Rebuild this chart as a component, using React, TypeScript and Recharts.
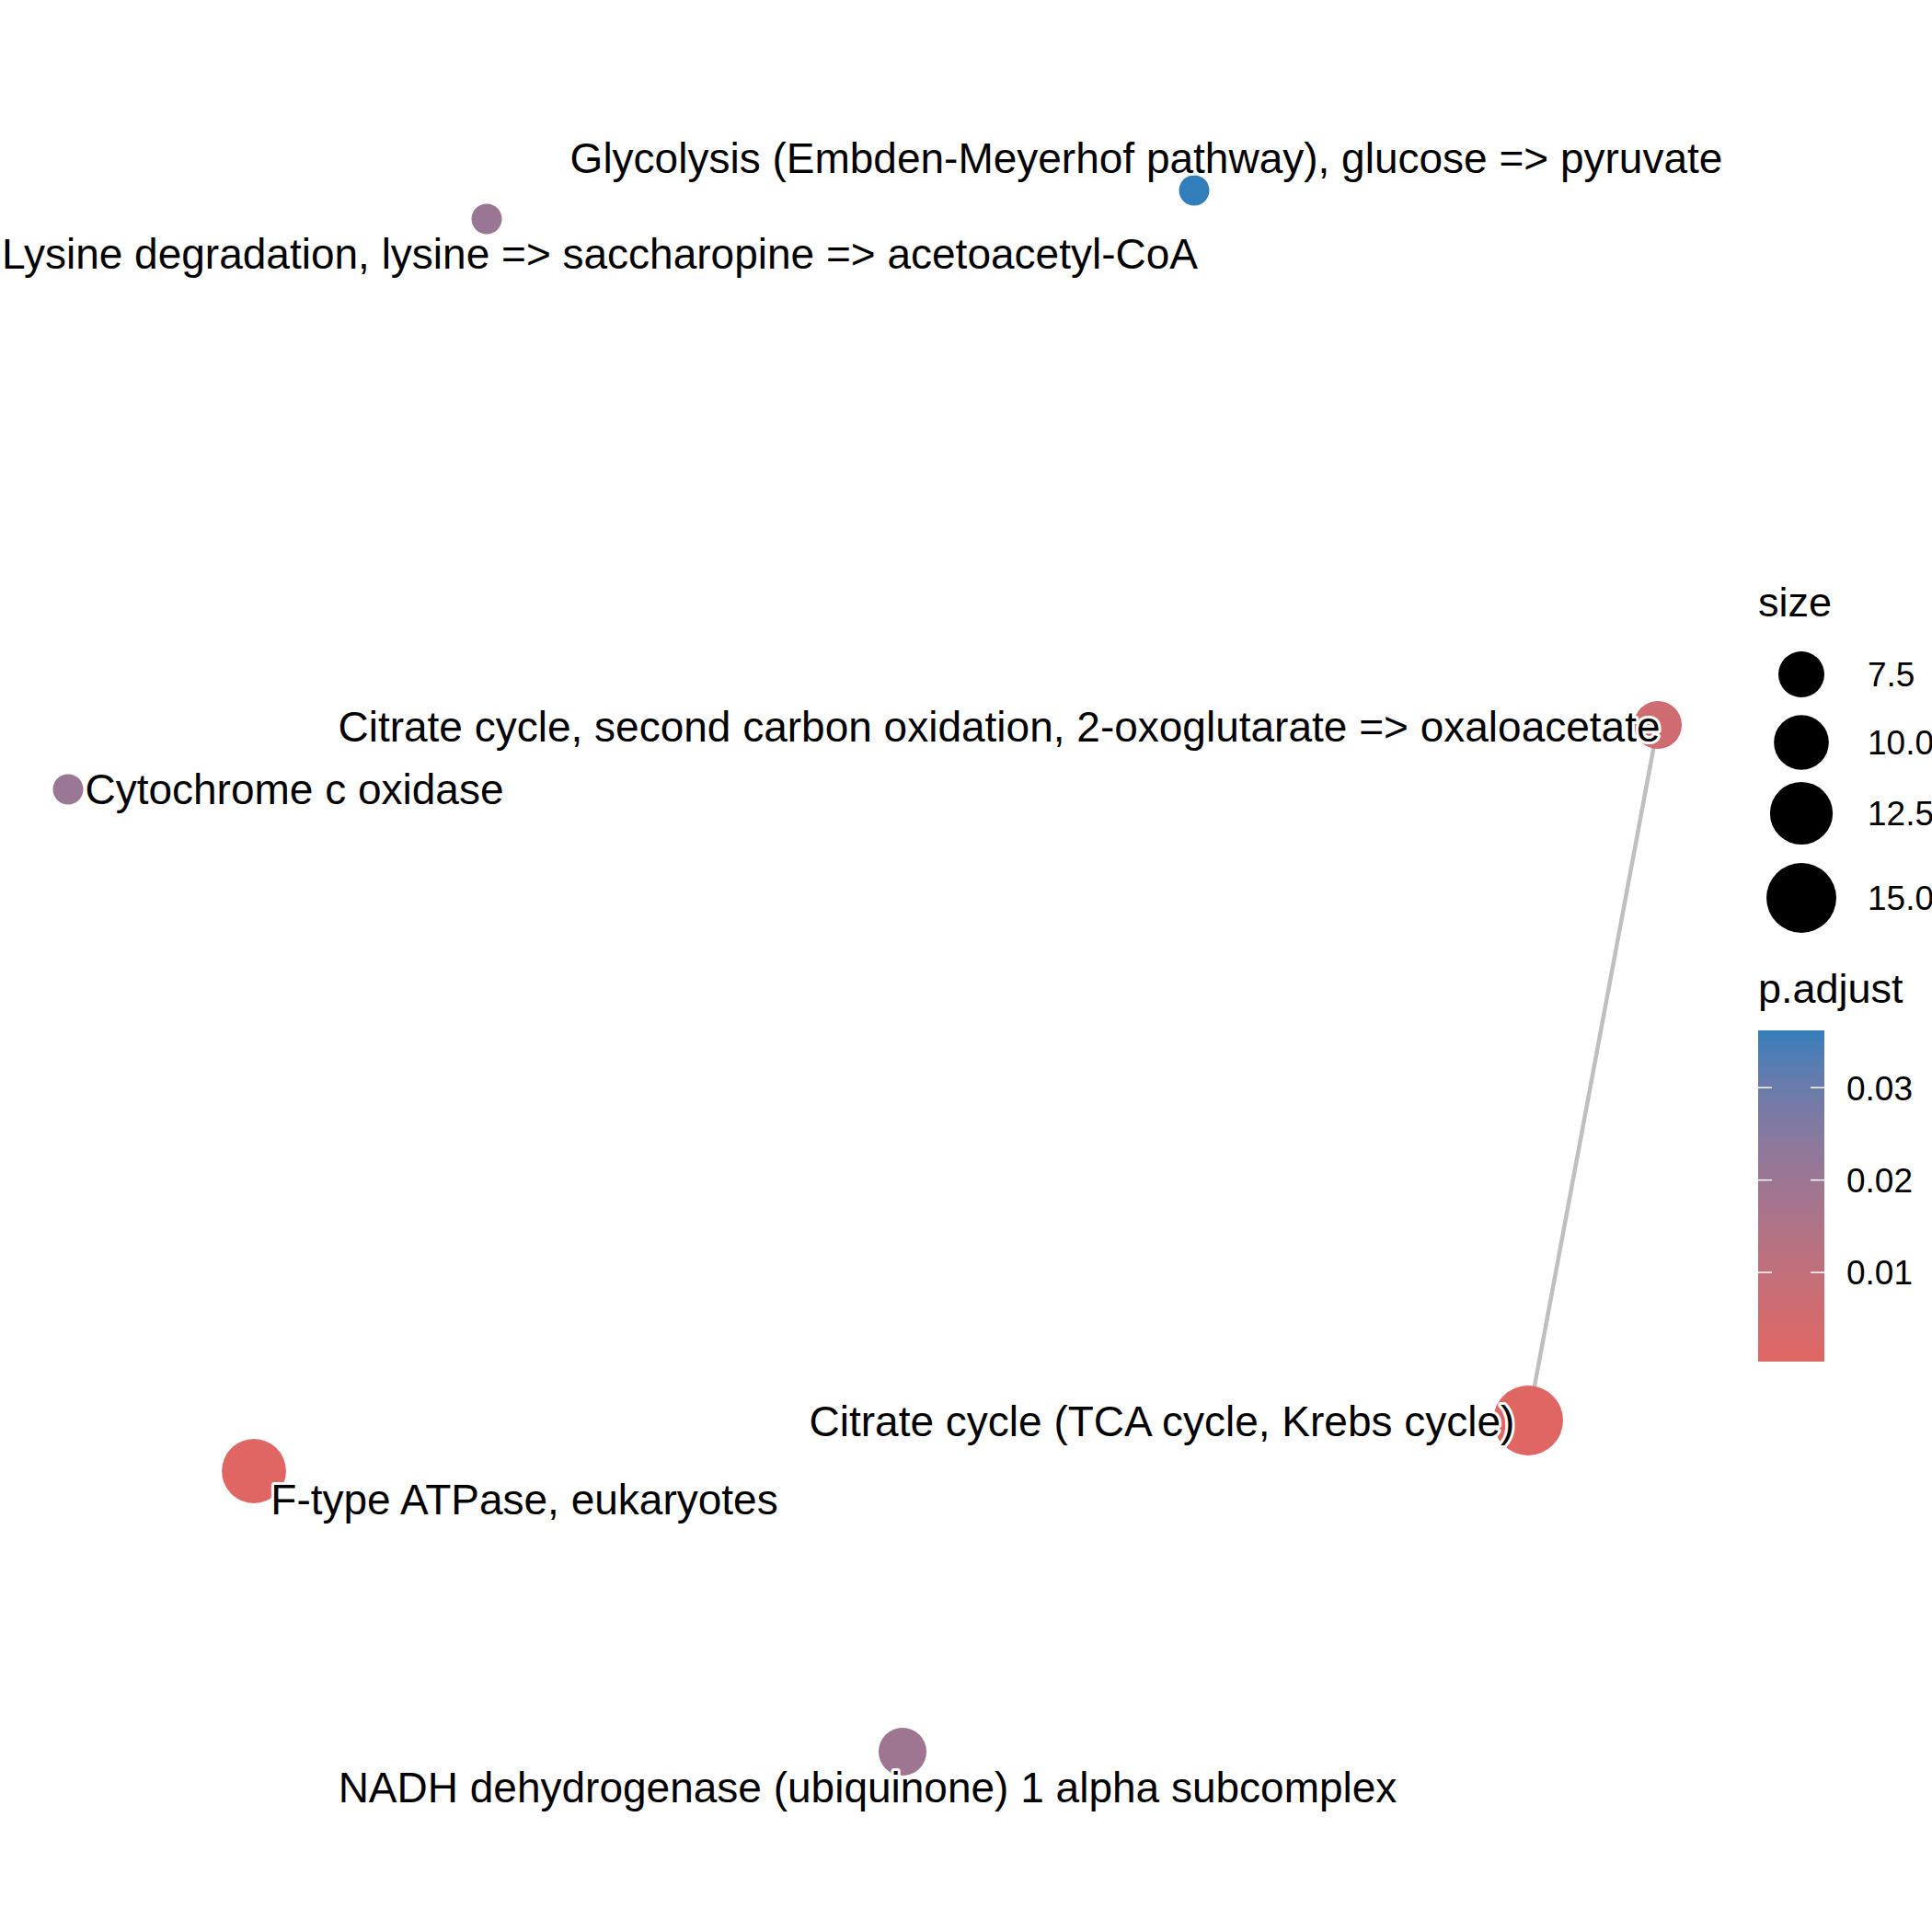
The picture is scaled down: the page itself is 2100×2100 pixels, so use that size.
import React from 'react';
import { ScatterChart, Scatter, XAxis, YAxis } from 'recharts';

// ---- data ----
const nodeNames = [
  'Glycolysis (Embden-Meyerhof pathway), glucose => pyruvate',
  'Lysine degradation, lysine => saccharopine => acetoacetyl-CoA',
  'Citrate cycle, second carbon oxidation, 2-oxoglutarate => oxaloacetate',
  'Cytochrome c oxidase',
  'Citrate cycle (TCA cycle, Krebs cycle)',
  'F-type ATPase, eukaryotes',
  'NADH dehydrogenase (ubiquinone) 1 alpha subcomplex',
];
const layoutX = [2.98, -4.71, 8.02, -9.26, 6.61, -7.24, -0.19];
const layoutY = [8.43, 8.12, 2.62, 1.92, -4.94, -5.49, -8.54];
const geneCount = [4, 4, 8, 4, 15, 13, 8];
const pAdjust = [0.0362, 0.0205, 0.0062, 0.0208, 0.00035, 0.0004, 0.0195];
const labelX = [2.46, -3.48, 0.86, -6.8, 2.63, -4.3, -0.57];
const labelY = [8.79, 7.75, 2.61, 1.93, -4.94, -5.79, -8.92];
const edges: [number, number][] = [[2, 4]];

const sizeBreaks = [7.5, 10.0, 12.5, 15.0];
const sizeBreakLabels = ['7.5', '10.0', '12.5', '15.0'];
const pBreaks = [0.01, 0.02, 0.03];
const pBreakLabels = ['0.01', '0.02', '0.03'];

const LOW = '#e06663';
const HIGH = '#327eba';

// ---- helpers ----
const W = 2100;
const H = 2100;
const FONT = '"Liberation Sans", Arial, Helvetica, sans-serif';

function radiusOf(v: number) {
  return -6.4 + 11.46 * Math.sqrt(v);
}

function hexToRgb(h: string) {
  const n = parseInt(h.slice(1), 16);
  return [(n >> 16) & 255, (n >> 8) & 255, n & 255];
}
function toLin(c: number) {
  c /= 255;
  return c <= 0.04045 ? c / 12.92 : Math.pow((c + 0.055) / 1.055, 2.4);
}
function fromLin(c: number) {
  const v = c <= 0.0031308 ? 12.92 * c : 1.055 * Math.pow(c, 1 / 2.4) - 0.055;
  return Math.max(0, Math.min(255, Math.round(v * 255)));
}
function rgbToLab(rgb: number[]) {
  const [r, g, b] = rgb.map(toLin);
  let x = (r * 0.4124 + g * 0.3576 + b * 0.1805) / 0.95047;
  let y = r * 0.2126 + g * 0.7152 + b * 0.0722;
  let z = (r * 0.0193 + g * 0.1192 + b * 0.9505) / 1.08883;
  const f = (t: number) => (t > 0.008856 ? Math.cbrt(t) : 7.787 * t + 16 / 116);
  x = f(x); y = f(y); z = f(z);
  return [116 * y - 16, 500 * (x - y), 200 * (y - z)];
}
function labToHex(lab: number[]) {
  const [L, a, bb] = lab;
  const fy = (L + 16) / 116;
  const fx = fy + a / 500;
  const fz = fy - bb / 200;
  const inv = (t: number) => (t * t * t > 0.008856 ? t * t * t : (t - 16 / 116) / 7.787);
  const x = inv(fx) * 0.95047;
  const y = inv(fy);
  const z = inv(fz) * 1.08883;
  const r = x * 3.2406 + y * -1.5372 + z * -0.4986;
  const g = x * -0.9689 + y * 1.8758 + z * 0.0415;
  const b = x * 0.0557 + y * -0.204 + z * 1.057;
  return '#' + [r, g, b].map(fromLin).map((v) => v.toString(16).padStart(2, '0')).join('');
}
const labLow = rgbToLab(hexToRgb(LOW));
const labHigh = rgbToLab(hexToRgb(HIGH));
const pMin = Math.min(...pAdjust);
const pMax = Math.max(...pAdjust);
function colorOfT(t: number) {
  t = Math.max(0, Math.min(1, t));
  return labToHex(labLow.map((v, i) => v + (labHigh[i] - v) * t));
}
function colorOf(p: number) {
  return colorOfT((p - pMin) / (pMax - pMin));
}

const nodes = nodeNames.map((name, i) => ({
  name,
  x: layoutX[i],
  y: layoutY[i],
  count: geneCount[i],
  p: pAdjust[i],
}));
const labels = nodeNames.map((name, i) => ({ name, x: labelX[i], y: labelY[i] }));
const edgeData = edges.map(([a, b]) => [
  { x: layoutX[a], y: layoutY[a] },
  { x: layoutX[b], y: layoutY[b] },
]);

const NodeShape = (props: any) => {
  const { cx, cy, payload } = props;
  if (cx == null || cy == null) return <g />;
  return <circle cx={cx} cy={cy} r={radiusOf(payload.count)} fill={colorOf(payload.p)} />;
};

const LabelShape = (props: any) => {
  const { cx, cy, payload } = props;
  if (cx == null || cy == null) return <g />;
  return (
    <text
      x={cx}
      y={cy}
      dy="0.36em"
      textAnchor="middle"
      fontFamily={FONT}
      fontSize={46}
      fill="#000"
      stroke="#fff"
      strokeWidth={6}
      strokeLinejoin="round"
      paintOrder="stroke"
    >
      {payload.name}
    </text>
  );
};

const Empty = () => <g />;

function Legend() {
  const barTop = 1120;
  const barBottom = 1480;
  const barLeft = 1911;
  const barRight = 1983;
  const yOfP = (p: number) => barBottom - ((p - pMin) / (pMax - pMin)) * (barBottom - barTop);
  const stops = Array.from({ length: 31 }, (_, i) => i / 30);
  const sizeY = [733, 807, 884, 976];
  return (
    <svg width={W} height={H} style={{ position: 'absolute', left: 0, top: 0, pointerEvents: 'none' }}>
      <defs>
        <linearGradient id="pgrad" x1="0" y1="1" x2="0" y2="0">
          {stops.map((t) => (
            <stop key={t} offset={t} stopColor={colorOfT(t)} />
          ))}
        </linearGradient>
      </defs>
      <text x={1911} y={670} fontFamily={FONT} fontSize={45} fill="#000">size</text>
      {sizeBreaks.map((v, i) => (
        <g key={v}>
          <circle cx={1958} cy={sizeY[i]} r={radiusOf(v)} fill="#000" />
          <text x={2030} y={sizeY[i]} dy="0.36em" fontFamily={FONT} fontSize={37} fill="#000">
            {sizeBreakLabels[i]}
          </text>
        </g>
      ))}
      <text x={1911} y={1090} fontFamily={FONT} fontSize={45} fill="#000">p.adjust</text>
      <rect x={barLeft} y={barTop} width={barRight - barLeft} height={barBottom - barTop} fill="url(#pgrad)" />
      {pBreaks.map((p, i) => (
        <g key={p}>
          <line x1={barLeft} x2={barLeft + 15} y1={yOfP(p)} y2={yOfP(p)} stroke="#fff" strokeWidth={1.5} />
          <line x1={barRight - 15} x2={barRight} y1={yOfP(p)} y2={yOfP(p)} stroke="#fff" strokeWidth={1.5} />
          <text x={2007} y={yOfP(p)} dy="0.36em" fontFamily={FONT} fontSize={37} fill="#000">
            {pBreakLabels[i]}
          </text>
        </g>
      ))}
    </svg>
  );
}

export default function App() {
  return (
    <div style={{ position: 'absolute', left: 0, top: 0, width: W, height: H, background: '#fff' }}>
      <ScatterChart width={W} height={H} margin={{ top: 0, right: 0, bottom: 0, left: 0 }}>
        <XAxis type="number" dataKey="x" domain={[-10, 11]} hide allowDataOverflow />
        <YAxis type="number" dataKey="y" domain={[-10.5, 10.5]} hide allowDataOverflow />
        {edgeData.map((d, i) => (
          <Scatter
            key={'e' + i}
            data={d}
            isAnimationActive={false}
            line={{ stroke: '#bfbfbf', strokeWidth: 4.5 }}
            shape={Empty}
          />
        ))}
        <Scatter data={nodes} isAnimationActive={false} shape={NodeShape} />
        <Scatter data={labels} isAnimationActive={false} shape={LabelShape} />
      </ScatterChart>
      <Legend />
    </div>
  );
}
